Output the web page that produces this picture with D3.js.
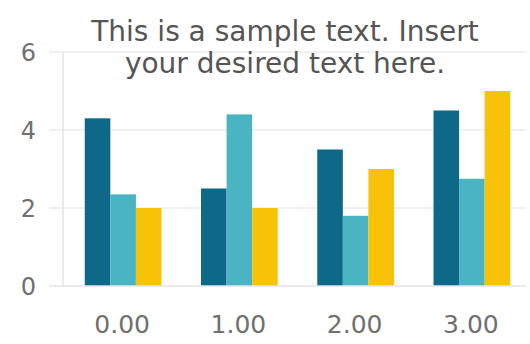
<!DOCTYPE html>
<html>
<head>
<meta charset="utf-8">
<script src="https://cdn.jsdelivr.net/npm/d3@7"></script>
<style>
  html, body { margin: 0; padding: 0; background: #ffffff; }
  svg { display: block; }
  text { font-family: "DejaVu Sans", Verdana, sans-serif; }
</style>
</head>
<body>
<svg id="chart" width="530" height="344"></svg>
<script>
// Data
const categories = ["0.00", "1.00", "2.00", "3.00"];
const seriesNames = ["A", "B", "C"];
const seriesA = [4.3, 2.5, 3.5, 4.5];
const seriesB = [2.35, 4.4, 1.8, 2.75];
const seriesC = [2.0, 2.0, 3.0, 5.0];
const yTicks = [0, 2, 4, 6];
const titleLines = ["This is a sample text. Insert", "your desired text here."];

const colors = ["#0e6887", "#4bb4c3", "#f8c208"];
const series = [seriesA, seriesB, seriesC];

const svg = d3.select("#chart");
const plot = { left: 63, right: 530, top: 52, bottom: 286 };

const x = d3.scaleBand()
  .domain(categories)
  .range([plot.left + 2, plot.right])
  .paddingInner(0.34)
  .paddingOuter(0.17);

const xs = d3.scaleBand()
  .domain(seriesNames)
  .range([0, x.bandwidth()])
  .padding(0);

const y = d3.scaleLinear()
  .domain([0, 6])
  .range([plot.bottom, plot.top]);

// Grid lines
svg.append("g")
  .selectAll("line")
  .data(yTicks.filter(d => d > 0))
  .join("line")
  .attr("x1", plot.left - 14)
  .attr("x2", plot.right - 4)
  .attr("y1", d => y(d))
  .attr("y2", d => y(d))
  .attr("stroke", "#e8ebee")
  .attr("stroke-width", 1.5);

// Left axis line
svg.append("line")
  .attr("x1", plot.left).attr("x2", plot.left)
  .attr("y1", plot.top).attr("y2", plot.bottom)
  .attr("stroke", "#e2e4e8").attr("stroke-width", 1.5);

// Bars
const groups = svg.append("g")
  .selectAll("g")
  .data(categories.map((c, i) => ({ c, vals: series.map(s => s[i]) })))
  .join("g")
  .attr("transform", d => `translate(${x(d.c)},0)`);

groups.selectAll("rect")
  .data(d => d.vals.map((v, j) => ({ v, name: seriesNames[j], j })))
  .join("rect")
  .attr("x", d => xs(d.name))
  .attr("width", xs.bandwidth())
  .attr("y", d => y(d.v))
  .attr("height", d => y(0) - y(d.v))
  .attr("fill", d => colors[d.j]);

// Baseline
svg.append("line")
  .attr("x1", plot.left - 14).attr("x2", plot.right - 4)
  .attr("y1", plot.bottom).attr("y2", plot.bottom)
  .attr("stroke", "#e2e4e8").attr("stroke-width", 1.5);

// Y tick labels
svg.append("g")
  .selectAll("text")
  .data(yTicks)
  .join("text")
  .attr("x", 36)
  .attr("y", d => y(d))
  .attr("dy", "0.36em")
  .attr("text-anchor", "end")
  .attr("font-size", 24)
  .attr("fill", "#707070")
  .text(d => d);

// X tick labels
svg.append("g")
  .selectAll("text")
  .data(categories)
  .join("text")
  .attr("x", d => x(d) + x.bandwidth() / 2 - 1)
  .attr("y", 333)
  .attr("text-anchor", "middle")
  .attr("font-size", 25)
  .attr("fill", "#707070")
  .text(d => d);

// Title
svg.append("g")
  .selectAll("text")
  .data(titleLines)
  .join("text")
  .attr("x", 285)
  .attr("y", (d, i) => 41 + i * 32)
  .attr("text-anchor", "middle")
  .attr("font-size", 28)
  .attr("fill", "#555555")
  .text(d => d);
</script>
</body>
</html>
